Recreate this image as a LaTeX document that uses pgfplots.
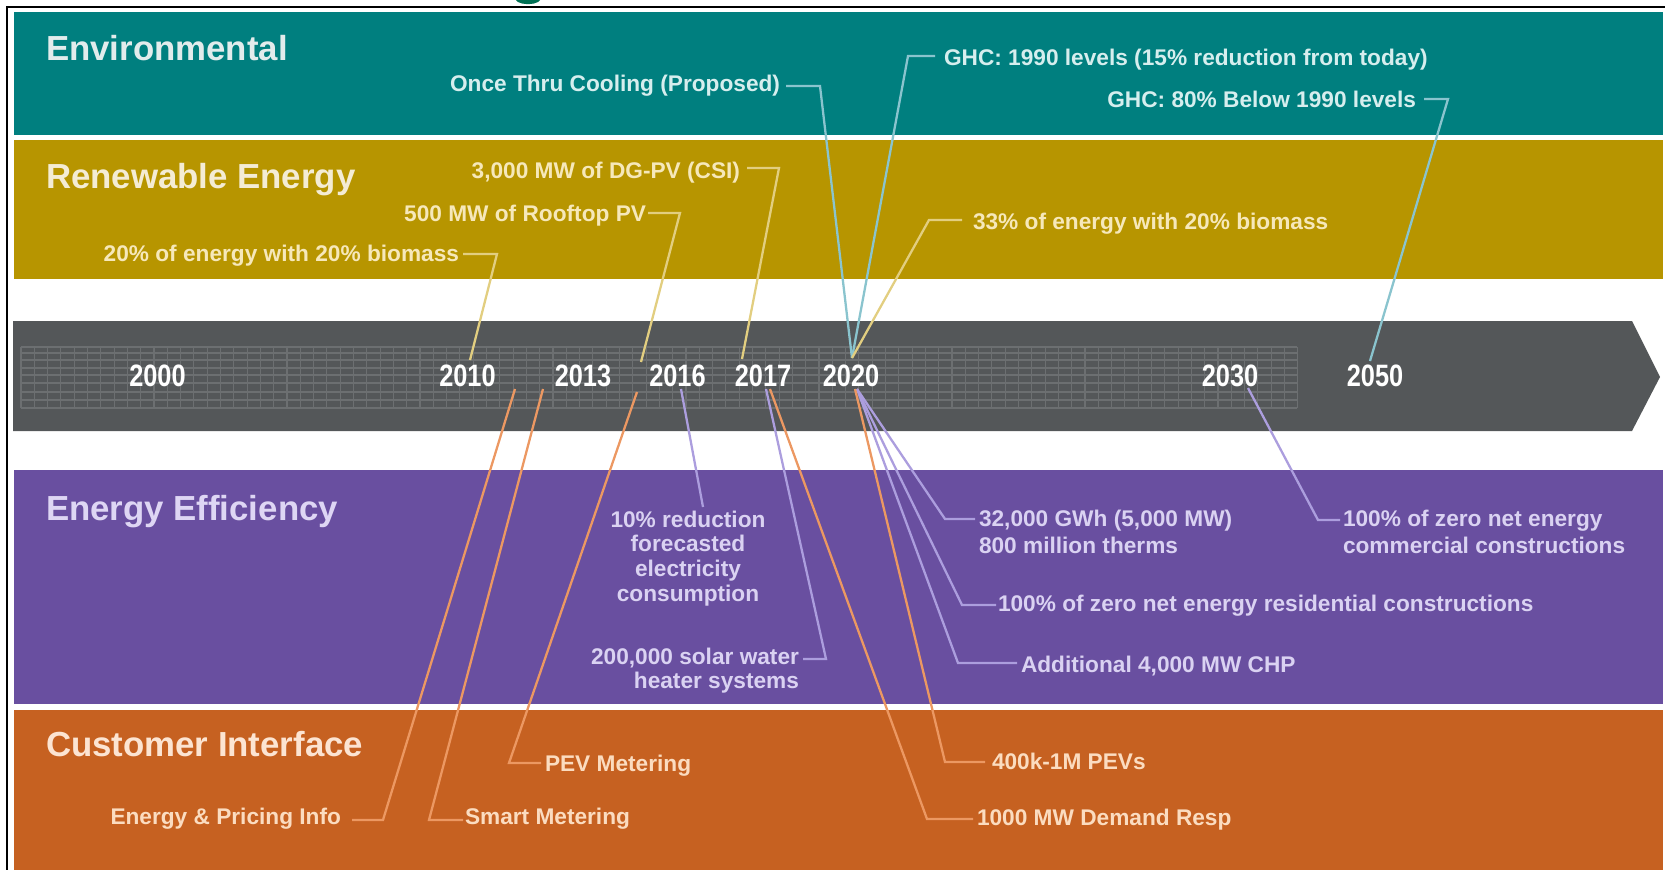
\documentclass[border=0pt]{standalone}
\usepackage{pgfplots}
\pgfplotsset{compat=1.18}
\usepackage{fontspec}
\setmainfont{Liberation Sans}
\usepackage{graphicx}

\definecolor{cteal}{RGB}{0,127,127}
\definecolor{cgold}{RGB}{183,149,0}
\definecolor{cgray}{RGB}{84,87,89}
\definecolor{cpurple}{RGB}{105,79,160}
\definecolor{corange}{RGB}{198,97,33}
\definecolor{cgreen}{RGB}{0,112,84}
\definecolor{tealtxt}{RGB}{214,238,238}
\definecolor{tealline}{RGB}{138,196,206}
\definecolor{goldtxt}{RGB}{246,232,186}
\definecolor{goldline}{RGB}{226,206,128}
\definecolor{purptxt}{RGB}{218,210,242}
\definecolor{purpline}{RGB}{172,158,222}
\definecolor{orngtxt}{RGB}{251,220,192}
\definecolor{orngline}{RGB}{236,152,98}
\definecolor{gridc}{RGB}{108,111,113}
\definecolor{envtitle}{RGB}{226,236,236}
\definecolor{rentitle}{RGB}{244,236,212}
\definecolor{efftitle}{RGB}{222,214,244}
\definecolor{custitle}{RGB}{252,228,210}

\newcommand{\ttl}{\fontsize{9.9}{12}\selectfont\bfseries}
\newcommand{\lbl}{\fontsize{6.45}{7.7}\selectfont\bfseries}
\newcommand{\yr}[1]{\scalebox{0.82}[1]{\fontsize{8.8}{10}\selectfont\bfseries #1}}
\tikzset{nd/.style={inner sep=0pt, outer sep=0pt}}

\begin{document}
\begin{tikzpicture}
\begin{axis}[
  at={(0,0)}, anchor=south west,
  width=16.65cm, height=8.7cm, scale only axis,
  xmin=0, xmax=1665, ymin=0, ymax=870, y dir=reverse,
  hide axis, clip=false,
]
% frame
\addplot[black, line width=0.6pt] coordinates {(7,870) (7,7) (1665,7)};
% partial green title glyph
\addplot[fill=cgreen, draw=none] coordinates {(516,0) (518,2) (522,3.5) (528,4.2) (534,3.5) (538,2) (540,0)} -- cycle;
% bands
\addplot[fill=cteal, draw=none] coordinates {(14,12) (1663,12) (1663,135) (14,135)} -- cycle;
\addplot[fill=cgold, draw=none] coordinates {(14,140) (1663,140) (1663,279) (14,279)} -- cycle;
\addplot[fill=cpurple, draw=none] coordinates {(14,470) (1663,470) (1663,704) (14,704)} -- cycle;
\addplot[fill=corange, draw=none] coordinates {(14,710) (1663,710) (1663,870) (14,870)} -- cycle;
% timeline arrow
\addplot[fill=cgray, draw=none] coordinates {(13,321) (1632,321) (1660,377) (1632,431) (13,431)} -- cycle;
% ruler grid
\pgfplotsinvokeforeach{347,353,360,368,375,383,392,400,408}{
  \draw[gridc, line width=0.3pt] (axis cs:21,#1) -- (axis cs:1297,#1);
}
\pgfplotsinvokeforeach{21,34.3,...,1297}{
  \draw[gridc, line width=0.3pt] (axis cs:#1,347) -- (axis cs:#1,408);
}

% band titles
\node[nd, anchor=base west, text=envtitle, font=\ttl] at (axis cs:46,60) {Environmental};
\node[nd, anchor=base west, text=rentitle, font=\ttl] at (axis cs:46,188) {Renewable Energy};
\node[nd, anchor=base west, text=efftitle, font=\ttl] at (axis cs:46,520) {Energy Efficiency};
\node[nd, anchor=base west, text=custitle, font=\ttl] at (axis cs:46,757) {Customer Interface};

% leader lines: environmental
\addplot[tealline, line width=0.65pt] coordinates {(786,86) (820,86) (852,358)};
\addplot[tealline, line width=0.65pt] coordinates {(935,56) (908,56) (852,358)};
\addplot[tealline, line width=0.65pt] coordinates {(1424,99) (1448,99) (1370,361)};
% renewable
\addplot[goldline, line width=0.65pt] coordinates {(463,254) (497,254) (470,360)};
\addplot[goldline, line width=0.65pt] coordinates {(648,213) (680,213) (641,362)};
\addplot[goldline, line width=0.65pt] coordinates {(747,168) (779,168) (742,359)};
\addplot[goldline, line width=0.65pt] coordinates {(962,220) (929,220) (852,358)};
% efficiency
\addplot[purpline, line width=0.65pt] coordinates {(681,389) (703,507)};
\addplot[purpline, line width=0.65pt] coordinates {(803,659) (826,659) (766,389)};
\addplot[purpline, line width=0.65pt] coordinates {(975,519) (945,519) (857,389)};
\addplot[purpline, line width=0.65pt] coordinates {(996,605) (962,605) (857,389)};
\addplot[purpline, line width=0.65pt] coordinates {(1017,663) (958,663) (857,389)};
\addplot[purpline, line width=0.65pt] coordinates {(1340,520) (1318,520) (1248,388)};
% customer interface
\addplot[orngline, line width=0.65pt] coordinates {(352,820) (383,820) (515,389)};
\addplot[orngline, line width=0.65pt] coordinates {(463,820) (429,820) (543,389)};
\addplot[orngline, line width=0.65pt] coordinates {(541,763) (509,763) (637,392)};
\addplot[orngline, line width=0.65pt] coordinates {(985,762) (945,762) (855,389)};
\addplot[orngline, line width=0.65pt] coordinates {(973,819) (927,819) (770,389)};

% labels environmental
\node[nd, anchor=base east, text=tealtxt, font=\lbl] at (axis cs:780,91) {Once Thru Cooling (Proposed)};
\node[nd, anchor=base west, text=tealtxt, font=\lbl] at (axis cs:944,65) {GHC: 1990 levels (15\% reduction from today)};
\node[nd, anchor=base east, text=tealtxt, font=\lbl] at (axis cs:1416,107) {GHC: 80\% Below 1990 levels};
% labels renewable
\node[nd, anchor=base east, text=goldtxt, font=\lbl] at (axis cs:740,178) {3,000 MW of DG-PV (CSI)};
\node[nd, anchor=base east, text=goldtxt, font=\lbl] at (axis cs:646,221) {500 MW of Rooftop PV};
\node[nd, anchor=base east, text=goldtxt, font=\lbl] at (axis cs:459,261) {20\% of energy with 20\% biomass};
\node[nd, anchor=base west, text=goldtxt, font=\lbl] at (axis cs:973,229) {33\% of energy with 20\% biomass};
% labels efficiency
\node[nd, anchor=base, text=purptxt, font=\lbl] at (axis cs:688,527) {10\% reduction};
\node[nd, anchor=base, text=purptxt, font=\lbl] at (axis cs:688,551) {forecasted};
\node[nd, anchor=base, text=purptxt, font=\lbl] at (axis cs:688,576) {electricity};
\node[nd, anchor=base, text=purptxt, font=\lbl] at (axis cs:688,601) {consumption};
\node[nd, anchor=base east, text=purptxt, font=\lbl] at (axis cs:799,664) {200,000 solar water};
\node[nd, anchor=base east, text=purptxt, font=\lbl] at (axis cs:799,688) {heater systems};
\node[nd, anchor=base west, text=purptxt, font=\lbl] at (axis cs:979,526) {32,000 GWh (5,000 MW)};
\node[nd, anchor=base west, text=purptxt, font=\lbl] at (axis cs:979,553) {800 million therms};
\node[nd, anchor=base west, text=purptxt, font=\lbl] at (axis cs:998,611) {100\% of zero net energy residential constructions};
\node[nd, anchor=base west, text=purptxt, font=\lbl] at (axis cs:1021,672) {Additional 4,000 MW CHP};
\node[nd, anchor=base west, text=purptxt, font=\lbl] at (axis cs:1343,526) {100\% of zero net energy};
\node[nd, anchor=base west, text=purptxt, font=\lbl] at (axis cs:1343,553) {commercial constructions};
% labels customer interface
\node[nd, anchor=base west, text=orngtxt, font=\lbl] at (axis cs:545,771) {PEV Metering};
\node[nd, anchor=base east, text=orngtxt, font=\lbl] at (axis cs:341,825) {Energy \& Pricing Info};
\node[nd, anchor=base west, text=orngtxt, font=\lbl] at (axis cs:465,825) {Smart Metering};
\node[nd, anchor=base west, text=orngtxt, font=\lbl] at (axis cs:992,770) {400k-1M PEVs};
\node[nd, anchor=base west, text=orngtxt, font=\lbl] at (axis cs:977,826) {1000 MW Demand Resp};

% years
\node[nd, anchor=base, text=white] at (axis cs:157.5,386) {\yr{2000}};
\node[nd, anchor=base, text=white] at (axis cs:467.5,386) {\yr{2010}};
\node[nd, anchor=base, text=white] at (axis cs:583,386) {\yr{2013}};
\node[nd, anchor=base, text=white] at (axis cs:677.5,386) {\yr{2016}};
\node[nd, anchor=base, text=white] at (axis cs:763,386) {\yr{2017}};
\node[nd, anchor=base, text=white] at (axis cs:851,386) {\yr{2020}};
\node[nd, anchor=base, text=white] at (axis cs:1230,386) {\yr{2030}};
\node[nd, anchor=base, text=white] at (axis cs:1375,386) {\yr{2050}};
\end{axis}
\pgfresetboundingbox
\path[use as bounding box] (0,0) rectangle (16.65cm,8.7cm);
\end{tikzpicture}
\end{document}
